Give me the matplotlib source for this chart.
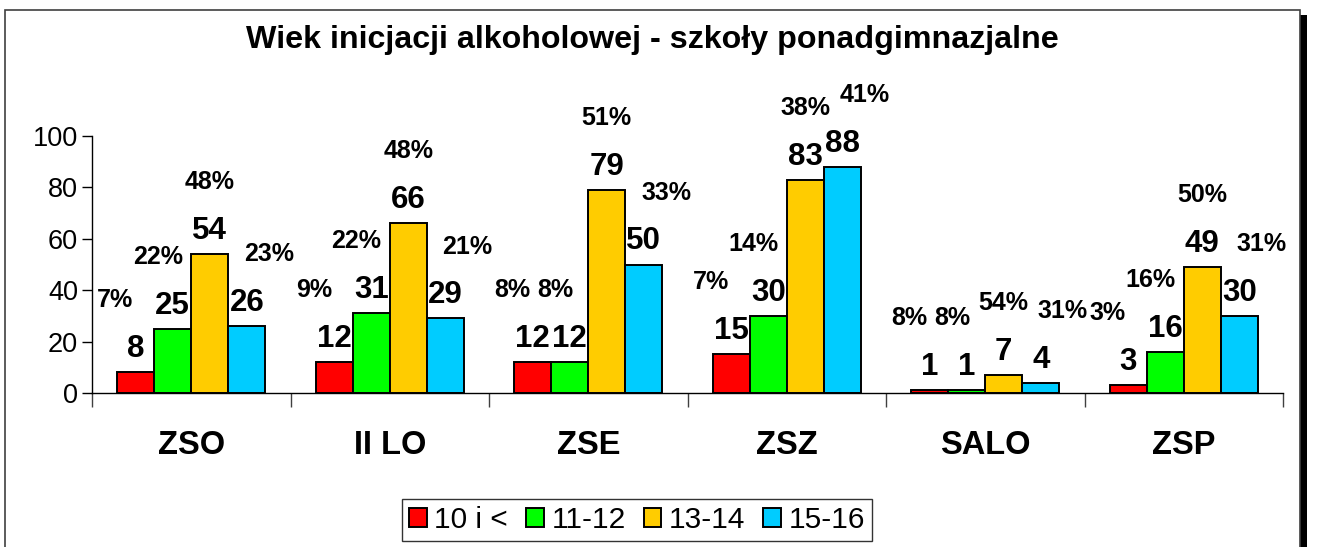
import matplotlib.pyplot as plt
from matplotlib.patches import Rectangle
import numpy as np

plt.rcParams["font.family"] = ["Liberation Sans", "DejaVu Sans"]

schools = ["ZSO", "II LO", "ZSE", "ZSZ", "SALO", "ZSP"]
series = ["10 i <", "11-12", "13-14", "15-16"]
counts = [
    [8, 12, 12, 15, 1, 3],      # 10 i <
    [25, 31, 12, 30, 1, 16],    # 11-12
    [54, 66, 79, 83, 7, 49],    # 13-14
    [26, 29, 50, 88, 4, 30],    # 15-16
]
percents = [
    ["7%", "9%", "8%", "7%", "8%", "3%"],
    ["22%", "22%", "8%", "14%", "8%", "16%"],
    ["48%", "48%", "51%", "38%", "54%", "50%"],
    ["23%", "21%", "33%", "41%", "31%", "31%"],
]
colors = ["#FF0000", "#00FF00", "#FFCC00", "#00CCFF"]
pct_dx = [-0.55, -0.4, 0.0, 0.6]  # label shift in bar widths


def main():
    W, H = 1317, 547
    fig = plt.figure(figsize=(W / 100, H / 100), dpi=100)

    # chart frame with shadow
    fig.patches.append(Rectangle((1299 / W, -0.05), 8 / W, (532 / H) + 0.05,
                                 transform=fig.transFigure, facecolor="black",
                                 edgecolor="none", zorder=0))
    fig.patches.append(Rectangle((5 / W, -0.05), 1295 / W, (537 / H) + 0.05,
                                 transform=fig.transFigure, facecolor="white",
                                 edgecolor="#404040", linewidth=1.2, zorder=1))

    ax = fig.add_axes([92 / W, (H - 393) / H, (1283 - 92) / W, (393 - 136) / H])
    ax.set_zorder(2)
    ax.patch.set_alpha(0)

    x = np.arange(len(schools))
    w = 0.1865
    for j, name in enumerate(series):
        pos = x + (j - 1.5) * w
        ax.bar(pos, counts[j], width=w, color=colors[j], edgecolor="black",
               linewidth=1.4, label=name)
        for k in range(len(schools)):
            v = counts[j][k]
            ax.text(pos[k], v + 9, str(v), ha="center", va="center",
                    fontsize=22.5, fontweight="bold", clip_on=False)
            ax.text(pos[k] + pct_dx[j] * w, v + 28, percents[j][k],
                    ha="center", va="center", fontsize=18,
                    fontweight="bold", clip_on=False)

    ax.set_xlim(-0.5, len(schools) - 0.5)
    ax.set_ylim(0, 100)
    ax.set_yticks(range(0, 101, 20))
    ax.tick_params(axis="y", labelsize=19.5, length=7, width=1, pad=3)
    ax.set_xticks(x)
    ax.set_xticklabels(schools, fontsize=23.5, fontweight="bold")
    ax.set_xticks(np.arange(-0.5, len(schools), 1), minor=True)
    ax.tick_params(axis="x", which="major", length=0, pad=27)
    ax.tick_params(axis="x", which="minor", length=10, width=1, color="#404040")
    for s in ["top", "right"]:
        ax.spines[s].set_visible(False)
    ax.spines["left"].set_linewidth(1)
    ax.spines["bottom"].set_linewidth(1)

    fig.text(652 / W, 1 - 40 / H, "Wiek inicjacji alkoholowej - szkoły ponadgimnazjalne",
             ha="center", va="center", fontsize=23.2, fontweight="bold")

    leg = fig.legend(loc="center", bbox_to_anchor=(637 / W, 1 - 520 / H), ncol=4,
                     fontsize=21.5, frameon=True, fancybox=False, handlelength=0.6,
                     handleheight=0.6, handletextpad=0.25, columnspacing=0.6,
                     borderpad=0.22, borderaxespad=0)
    leg.get_frame().set_edgecolor("black")
    leg.get_frame().set_linewidth(1)
    leg.set_zorder(3)

    fig.savefig("out.png", dpi=100)


if __name__ == "__main__":
    main()
